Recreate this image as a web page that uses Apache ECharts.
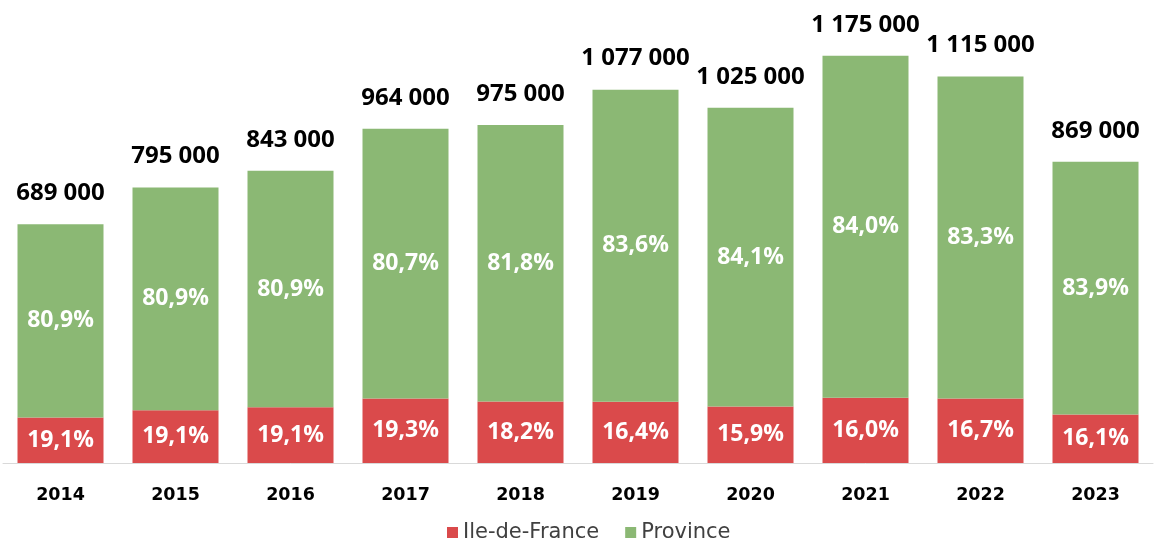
<!DOCTYPE html>
<html>
<head>
<meta charset="utf-8">
<script src="https://cdn.jsdelivr.net/npm/echarts@6/dist/echarts.min.js"></script>
<style>
html,body{margin:0;padding:0;background:#fff;}
#chart{width:1154px;height:539px;}
</style>
</head>
<body>
<div id="chart"></div>
<script>
const years = ['2014','2015','2016','2017','2018','2019','2020','2021','2022','2023'];
const totals = [689000, 795000, 843000, 964000, 975000, 1077000, 1025000, 1175000, 1115000, 869000];
const pctIDF = [19.1, 19.1, 19.1, 19.3, 18.2, 16.4, 15.9, 16.0, 16.7, 16.1];
const pctProvince = [80.9, 80.9, 80.9, 80.7, 81.8, 83.6, 84.1, 84.0, 83.3, 83.9];

const valIDF = totals.map((t, i) => t * pctIDF[i] / 100);
const valProvince = totals.map((t, i) => t - valIDF[i]);

const fmtPct = v => v.toFixed(1).replace('.', ',') + '%';
const fmtTotal = v => String(v).replace(/\B(?=(\d{3})+(?!\d))/g, ' ');

const chart = echarts.init(document.getElementById('chart'));
chart.setOption({
  animation: false,
  backgroundColor: '#ffffff',
  grid: { left: 3, right: 1, top: 47, bottom: 76, containLabel: false },
  legend: {
    left: 442, top: 517,
    itemWidth: 11, itemHeight: 11, itemGap: 26,
    icon: 'rect',
    textStyle: { fontFamily: 'DejaVu Sans', fontSize: 21, color: '#404040' },
    data: ['Ile-de-France', 'Province']
  },
  xAxis: {
    type: 'category',
    data: years,
    axisLine: { lineStyle: { color: '#d9d9d9', width: 1 } },
    axisTick: { show: false },
    axisLabel: { margin: 23, fontFamily: 'DejaVu Sans', fontWeight: 'bold', fontSize: 17.5, color: '#000' }
  },
  yAxis: {
    type: 'value', min: 0, max: 1200000,
    show: false, splitLine: { show: false }
  },
  series: [
    {
      name: 'Ile-de-France', type: 'bar', stack: 'a', barWidth: 86,
      itemStyle: { color: '#DA4A4B' },
      data: valIDF,
      label: {
        show: true, position: 'inside',
        fontFamily: 'Open Sans', fontWeight: 'bold', fontSize: 23, color: '#fff',
        formatter: p => fmtPct(pctIDF[p.dataIndex])
      }
    },
    {
      name: 'Province', type: 'bar', stack: 'a', barWidth: 86,
      itemStyle: { color: '#8BB874' },
      data: valProvince,
      label: {
        show: true, position: 'inside',
        fontFamily: 'Open Sans', fontWeight: 'bold', fontSize: 23, color: '#fff',
        formatter: p => fmtPct(pctProvince[p.dataIndex])
      }
    },
    {
      name: 'Total', type: 'bar', stack: 'a', barWidth: 86,
      itemStyle: { color: 'transparent' },
      data: totals.map(() => 0),
      silent: true,
      label: {
        show: true, position: 'top', distance: 19,
        fontFamily: 'Open Sans', fontWeight: 'bold', fontSize: 24, color: '#000',
        formatter: p => fmtTotal(totals[p.dataIndex])
      }
    }
  ]
});
</script>
</body>
</html>
